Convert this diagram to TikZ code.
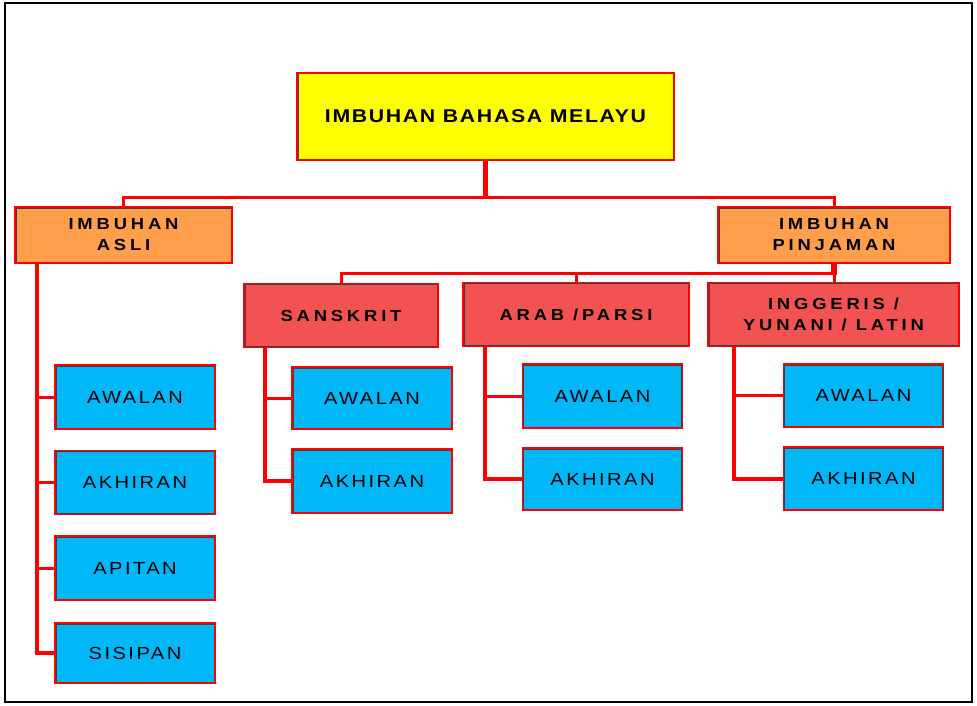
\documentclass[tikz,border=0pt]{standalone}
\usepackage{fontspec}
\newfontfamily\judulfont[FakeStretch=1.15,LetterSpace=9]{Liberation Sans}
\newfontfamily\labelfont[FakeStretch=1.15,LetterSpace=24]{Liberation Sans}
\newfontfamily\bentukfont[FakeStretch=1.15,LetterSpace=14]{Liberation Sans}
\definecolor{kuning}{HTML}{FFFF00}
\definecolor{jingga}{HTML}{FF9F4C}
\definecolor{merah}{HTML}{F25252}
\definecolor{biru}{HTML}{00B8F8}
\tikzset{
  kotak/.style={rectangle,draw=red,line width=1.4pt,inner sep=0pt,align=center,
    path picture={\draw[black!75,line width=3pt] (path picture bounding box.south west) rectangle (path picture bounding box.north east);}},
  induk/.style={kotak,fill=kuning,minimum width=377pt,minimum height=87pt,font=\judulfont\bfseries\fontsize{18.5}{22}\selectfont},
  jenis/.style={kotak,fill=jingga,minimum height=56pt,font=\labelfont\bfseries\fontsize{16}{21}\selectfont},
  asal/.style={kotak,fill=merah,minimum height=64pt,font=\labelfont\bfseries\fontsize{16}{21}\selectfont},
  bentuk/.style={kotak,fill=biru,minimum width=160pt,minimum height=64pt,font=\bentukfont\fontsize{17.5}{20}\selectfont},
  garis/.style={red,line width=3pt},
  tebal/.style={red,line width=5.5pt},
  tiang/.style={red,line width=4pt}
}
\begin{document}
\begin{tikzpicture}[x=1pt,y=-1pt]
\useasboundingbox (0,0) rectangle (977,706);
\draw[line width=1.5pt] (5,3) rectangle (972,702);

% tahap atas
\node[induk] (melayu) at (485.5,116.5) {IMBUHAN BAHASA MELAYU};
\node[jenis,minimum width=217pt] (asli) at (123.5,235) {IMBUHAN\\ASLI};
\node[jenis,minimum width=232pt] (pinjaman) at (834,235) {IMBUHAN\\PINJAMAN};

% bahasa asal
\node[asal,minimum width=194pt] (sanskrit) at (341,315.5) {SANSKRIT};
\node[asal,minimum width=226pt] (arab) at (576,314.5) {ARAB /PARSI};
\node[asal,minimum width=251pt] (inggeris) at (833.5,314.5) {INGGERIS /\\YUNANI / LATIN};

% imbuhan asli
\node[bentuk] (asli1) at (135,397) {AWALAN};
\node[bentuk] (asli2) at (135,482.5) {AKHIRAN};
\node[bentuk] (asli3) at (135,568) {APITAN};
\node[bentuk,minimum height=60pt] (asli4) at (135,653) {SISIPAN};

% imbuhan pinjaman
\node[bentuk,minimum height=62pt] (sans1) at (372,398) {AWALAN};
\node[bentuk] (sans2) at (372,481) {AKHIRAN};
\node[bentuk] (arab1) at (602.5,396) {AWALAN};
\node[bentuk,minimum height=62pt] (arab2) at (602.5,479) {AKHIRAN};
\node[bentuk,minimum height=63pt] (ingg1) at (863.5,395.5) {AWALAN};
\node[bentuk,minimum height=63pt] (ingg2) at (863.5,478.5) {AKHIRAN};

% penyambung
\coordinate (bus1) at (486,197);
\coordinate (bus2) at (834,273);
\draw[garis] (asli.north) |- (bus1) -| (pinjaman.north);
\draw[tebal] (melayu.south) -- ++(0,38.5);
\draw[garis] (sanskrit.north) |- (bus2);
\draw[garis] (arab.north) -- (arab.north |- bus2);
\draw[tebal] (pinjaman.south) -- ++(0,11.5);
\draw[garis] (bus2) -- (inggeris.north -| bus2);

\draw[tiang] (37,263) |- (asli4.west);
\foreach \n in {asli1,asli2,asli3} \draw[garis] (37,0 |- \n.west) -- (\n.west);
\draw[tiang] (265,348) |- (sans2.west);
\draw[garis] (265,0 |- sans1.west) -- (sans1.west);
\draw[tiang] (485,346) |- (arab2.west);
\draw[garis] (485,0 |- arab1.west) -- (arab1.west);
\draw[tiang] (734,346) |- (ingg2.west);
\draw[garis] (734,0 |- ingg1.west) -- (ingg1.west);
\end{tikzpicture}
\end{document}
